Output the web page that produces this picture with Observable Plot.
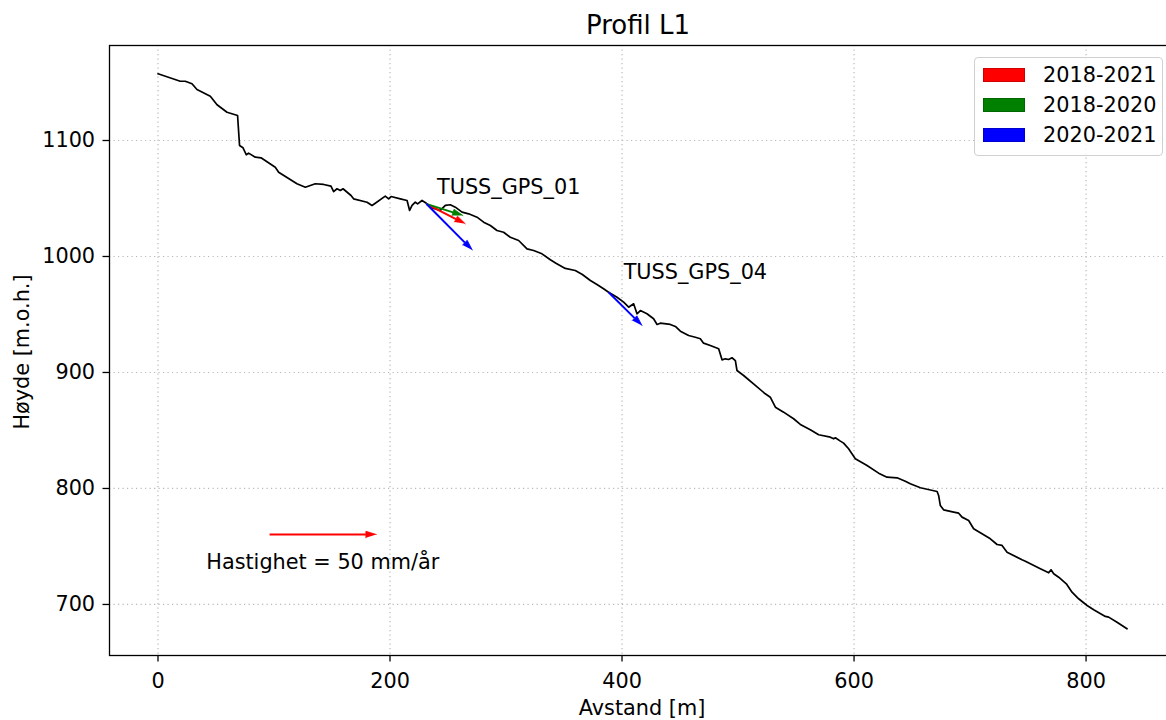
<!DOCTYPE html>
<html>
<head>
<meta charset="utf-8">
<script src="https://cdn.jsdelivr.net/npm/d3@7"></script>
<script src="https://cdn.jsdelivr.net/npm/@observablehq/plot@0.6"></script>
<style>
  body { margin: 0; background: #fff; overflow: hidden; font-family: "DejaVu Sans", sans-serif; color: #000; }
  #wrap { position: relative; width: 1166px; height: 720px; overflow: hidden; }
  #title { height: 44px; position: relative; }
  #title span { position: absolute; left: 638px; top: 25px; transform: translate(-50%, -50%); font-size: 26px; white-space: nowrap; line-height: 1; }
  .axlabel { position: absolute; font-size: 20.8px; white-space: nowrap; line-height: 1; }
  #xlabel { left: 642px; top: 708px; transform: translate(-50%, -50%); }
  #ylabel { left: 22px; top: 352px; transform: translate(-50%, -50%) rotate(-90deg); }
  #legend { position: absolute; left: 974px; top: 57px; width: 189px; height: 99px; box-sizing: border-box;
            border: 1px solid #d0d0d0; border-radius: 4px; background: rgba(255,255,255,0.8); }
  .lrow { position: absolute; left: 0; width: 100%; height: 30px; }
  .lpatch { position: absolute; left: 8px; top: 8px; width: 42px; height: 14px; box-sizing: border-box; }
  .ltext { position: absolute; left: 68px; top: 15px; transform: translateY(-50%); font-size: 20.8px; line-height: 1; white-space: nowrap; }
</style>
</head>
<body>
<div id="wrap">
  <div id="title"><span>Profil L1</span></div>
  <div id="chart"></div>
  <div id="xlabel" class="axlabel">Avstand [m]</div>
  <div id="ylabel" class="axlabel">Høyde [m.o.h.]</div>
  <div id="legend"></div>
</div>
<script>
// ---- Data ----
const profileDist = [0,19.2,23.5,29.3,33.6,45.1,50.9,59.5,68.6,70.3,
  73.3,76.1,78.1,83.9,88.8,101.1,104.0,119.8,127.0,135.6,
  142.8,149.1,151.4,154.3,157.2,159.5,166.4,168.6,180.2,184.5,
  187.3,195.9,198.8,200.9,208.9,214.7,216.9,219.0,221.8,223.8,
  227.6,231.3,234.7,239.1,243.4,247.7,252.0,256.3,262.1,267.8,
  275.0,280.7,286.5,292.2,297.9,303.7,310.9,318.1,323.8,331.0,
  338.2,343.4,351.1,359.7,365.8,372.7,378.4,384.1,388.4,395.7,
  401.4,405.7,410.0,412.9,415.8,421.5,427.2,430.2,433.0,441.6,
  446.0,450.3,457.4,463.2,467.5,470.3,476.1,483.3,486.2,489.0,
  491.9,494.8,497.7,499.1,504.8,514.9,523.5,527.8,532.2,539.3,
  547.9,553.7,562.3,569.5,579.6,582.4,583.9,588.2,591.0,595.3,
  601.1,611.2,621.2,628.4,637.1,644.2,648.5,657.2,671.6,672.9,
  674.4,677.2,685.9,690.2,693.1,698.8,703.1,710.3,717.5,723.3,
  727.6,731.9,744.8,747.7,760.6,767.8,769.8,772.1,776.4,783.0,
  787.9,793.6,800.9,806.6,816.6,819.5,826.7,835.3];
const profileElev = [1157.5,1151.1,1151.1,1148.9,1144.0,1138.2,1130.8,1124.4,1121.6,1095.7,
  1093.7,1087.7,1089.1,1085.6,1085.1,1077.0,1072.7,1062.7,1059.7,1062.7,
  1062.1,1060.6,1056.0,1058.4,1056.9,1058.4,1052.6,1049.7,1046.8,1044.0,
  1045.9,1052.0,1049.7,1051.7,1049.7,1048.3,1039.7,1044.0,1046.8,1045.4,
  1048.3,1045.9,1042.5,1041.1,1039.7,1044.0,1044.6,1042.5,1038.2,1036.8,
  1033.9,1029.6,1026.7,1022.4,1020.9,1016.6,1013.8,1006.6,1005.2,1002.3,
  997.2,994.0,989.7,987.9,984.5,979.3,975.9,972.2,969.2,964.9,
  960.6,956.3,959.2,950.6,953.4,950.6,946.3,941.4,942.5,941.4,
  939.7,935.6,931.9,930.4,929.1,925.3,923.3,920.4,910.9,911.8,
  911.2,912.7,910.3,901.7,897.4,888.8,881.6,878.7,870.1,865.8,
  860.1,855.2,850.6,846.3,844.2,842.8,843.7,840.8,839.1,834.2,
  825.6,819.8,813.2,809.7,809.2,806.3,804.1,800.6,797.4,794.0,
  785.3,781.6,779.6,778.7,775.3,772.4,765.3,760.9,756.6,751.7,
  750.9,745.1,738.5,737.3,730.8,727.3,729.9,726.5,723.5,717.8,
  710.6,704.9,699.1,695.4,689.7,689.1,684.7,679.0];

const seriesNames  = ["2018-2021", "2018-2020", "2020-2021"];
const seriesColors = ["#ff0000", "#008000", "#0000ff"];

// velocity arrows (start -> end, in m / m.o.h.)
const arrowSeries = ["2018-2021", "2018-2020", "2020-2021", "2020-2021"];
const arrowStartX = [231.3, 231.3, 231.3, 388.4];
const arrowStartY = [1045.4, 1045.4, 1045.4, 969.2];
const arrowEndX   = [264.9, 262.9, 270.9, 417.2];
const arrowEndY   = [1028.2, 1035.3, 1005.6, 940.5];

const stationNames  = ["TUSS_GPS_01", "TUSS_GPS_04"];
const stationLabelX = [240.5, 401.4];
const stationLabelY = [1054.1, 980.2];

// reference arrow
const refArrowX = [96.2, 188.2];
const refArrowY = [760.3, 760.3];
const refText = ["Hastighet = 50 mm/år"];
const refTextX = [41.6];
const refTextY = [730.2];

const xTicks = [0, 200, 400, 600, 800];
const yTicks = [700, 800, 900, 1000, 1100];

// ---- Build ----
const colorOf = s => seriesColors[seriesNames.indexOf(s)];
const profile = profileDist.map((d, i) => ({x: d, y: profileElev[i]}));
const arrows = arrowSeries.map((s, i) => ({series: s, x1: arrowStartX[i], y1: arrowStartY[i], x2: arrowEndX[i], y2: arrowEndY[i]}));
arrows.unshift({series: "2018-2021", x1: refArrowX[0], y1: refArrowY[0], x2: refArrowX[1], y2: refArrowY[1]});

const HL = 9.0, HW = 2.8; // arrowhead size (equal aspect scales)
function headOf(a) {
  const dx = a.x2 - a.x1, dy = a.y2 - a.y1, L = Math.hypot(dx, dy);
  const ux = dx / L, uy = dy / L;
  const bx = a.x2 - ux * HL, by = a.y2 - uy * HL;
  return {base: {x: bx, y: by}, pts: [{x: a.x2, y: a.y2}, {x: bx - uy * HW, y: by + ux * HW}, {x: bx + uy * HW, y: by - ux * HW}]};
}
const shafts = arrows.map(a => { const h = headOf(a); return {...a, bx: h.base.x, by: h.base.y}; });

const marks = [
  Plot.gridX(xTicks, {stroke: "#b8b8b8", strokeOpacity: 1, strokeWidth: 1.2, strokeDasharray: "1.2,3.3"}),
  Plot.gridY(yTicks, {stroke: "#b8b8b8", strokeOpacity: 1, strokeWidth: 1.2, strokeDasharray: "1.2,3.3"}),
  Plot.line(profile, {x: "x", y: "y", stroke: "black", strokeWidth: 1.7}),
  Plot.link(shafts, {x1: "x1", y1: "y1", x2: "bx", y2: "by", stroke: d => colorOf(d.series), strokeWidth: 2}),
  ...arrows.map(a => Plot.line(headOf(a).pts, {x: "x", y: "y", fill: colorOf(a.series), stroke: colorOf(a.series), strokeWidth: 0.8})),
  Plot.text(stationNames, {x: (d, i) => stationLabelX[i], y: (d, i) => stationLabelY[i], text: d => d, textAnchor: "start", lineAnchor: "bottom", fill: "black"}),
  Plot.text(refText, {x: (d, i) => refTextX[i], y: (d, i) => refTextY[i], text: d => d, textAnchor: "start", lineAnchor: "bottom", fill: "black"}),
  Plot.axisX(xTicks, {tickSize: 6.5, tickPadding: 11, tickFormat: d3.format("d"), label: null, strokeWidth: 1.3}),
  Plot.axisY(yTicks, {tickSize: 6.5, tickPadding: 7.9, tickFormat: d3.format("d"), label: null, strokeWidth: 1.3}),
  Plot.frame({stroke: "black", strokeWidth: 1.3})
];

const chart = Plot.plot({
  width: 1166,
  height: 676,
  marginTop: 1,
  marginBottom: 65,
  marginLeft: 109,
  marginRight: -9,
  x: {domain: [-41.8, 877.1]},
  y: {domain: [656.0, 1181.9]},
  style: {fontFamily: "DejaVu Sans", fontSize: "20.8px", overflow: "hidden", color: "black", background: "white", maxWidth: "none"},
  marks
});
document.getElementById("chart").appendChild(chart);

// legend
const legend = document.getElementById("legend");
seriesNames.forEach((s, i) => {
  const row = document.createElement("div");
  row.className = "lrow";
  row.style.top = (2 + i * 30) + "px";
  const p = document.createElement("div");
  p.className = "lpatch";
  p.style.background = seriesColors[i];
  p.style.border = "1px solid " + d3.color(seriesColors[i]).darker(0.6);
  const t = document.createElement("div");
  t.className = "ltext";
  t.textContent = s;
  row.appendChild(p); row.appendChild(t);
  legend.appendChild(row);
});
</script>
</body>
</html>
